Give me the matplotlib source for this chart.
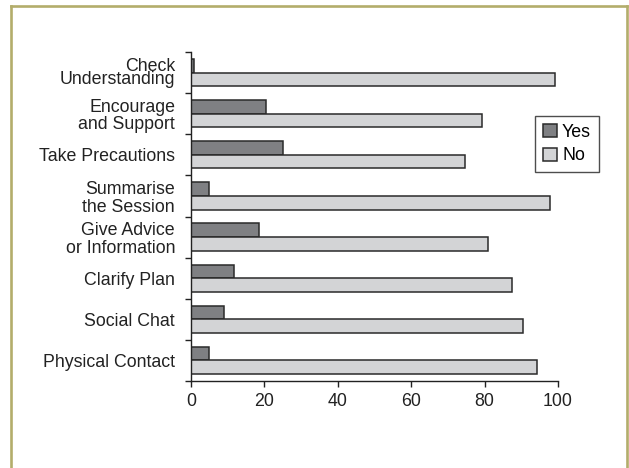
import matplotlib
matplotlib.use("Agg")
import matplotlib.pyplot as plt
from matplotlib.lines import Line2D
import numpy as np

categories = ["Check\nUnderstanding", "Encourage\nand Support", "Take Precautions",
              "Summarise\nthe Session", "Give Advice\nor Information", "Clarify Plan",
              "Social Chat", "Physical Contact"]
yes_vals = [0.8, 20.5, 25.1, 5.0, 18.5, 11.8, 9.1, 5.0]
no_vals = [99.3, 79.3, 74.6, 97.7, 81.0, 87.6, 90.4, 94.3]
xticks = [0, 20, 40, 60, 80, 100]

plt.rcParams['font.family'] = ['Liberation Sans', 'DejaVu Sans']

W, H = 629, 468
fig = plt.figure(figsize=(W / 100, H / 100), dpi=100)
ax = fig.add_axes([191 / W, 1 - 381 / H, (558 - 191) / W, (381 - 52) / H])

fs = 12.8
ypos = np.arange(len(categories))
h = 0.33
ax.barh(ypos - h / 2, yes_vals, height=h, color="#7f8083", edgecolor="#2a2a2a",
        linewidth=1.1, label="Yes")
ax.barh(ypos + h / 2, no_vals, height=h, color="#d3d4d6", edgecolor="#2a2a2a",
        linewidth=1.1, label="No")

ax.set_xlim(0, 100)
ax.set_ylim(len(categories) - 0.5, -0.5)
ax.set_xticks(xticks)
ax.set_xticklabels([str(v) for v in xticks], fontsize=fs, color="#222222")
ax.set_yticks(ypos)
labels = ax.set_yticklabels(categories, fontsize=fs, color="#222222", linespacing=1.06)
labels[0].set_linespacing(0.72)
ax.set_yticks(np.arange(len(categories) + 1) - 0.5, minor=True)
ax.tick_params(axis="y", which="major", length=0, pad=11.5)
ax.tick_params(axis="y", which="minor", length=4.5, width=1.0, color="#222222", direction="out")
ax.tick_params(axis="x", which="major", length=4, width=1.0, color="#222222", pad=4.5)

for s in ["top", "right"]:
    ax.spines[s].set_visible(False)
for s in ["left", "bottom"]:
    ax.spines[s].set_linewidth(1.0)
    ax.spines[s].set_color("#222222")

leg = ax.legend(loc="upper right", bbox_to_anchor=(599 / W, 1 - 116 / H),
                bbox_transform=fig.transFigure, frameon=True, fancybox=False,
                fontsize=fs, handlelength=0.75, handleheight=0.75, handletextpad=0.3,
                borderpad=0.45, labelspacing=0.35, borderaxespad=0)
leg.get_frame().set_edgecolor("#222222")
leg.get_frame().set_linewidth(1.0)

bc = "#b3ad6b"
lw = 1.9
fig.add_artist(Line2D([11 / W, 11 / W], [0, 1 - 6 / H], color=bc, lw=lw, transform=fig.transFigure))
fig.add_artist(Line2D([11 / W, 627 / W], [1 - 6 / H, 1 - 6 / H], color=bc, lw=lw, transform=fig.transFigure))
fig.add_artist(Line2D([627 / W, 627 / W], [0, 1 - 6 / H], color=bc, lw=lw, transform=fig.transFigure))

fig.savefig("out.png", dpi=100)
